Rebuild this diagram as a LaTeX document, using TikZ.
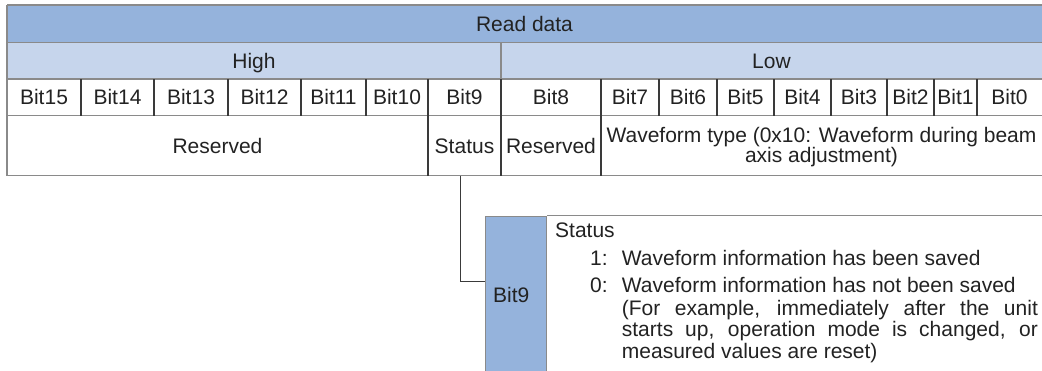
\documentclass[tikz,border=0pt]{standalone}
\usepackage{fontspec}
\setmainfont{Liberation Sans}
\definecolor{hdr}{HTML}{95B3DC}
\definecolor{sub}{HTML}{C6D5EC}
\definecolor{gline}{HTML}{8A8A8A}
\definecolor{dline}{HTML}{3A3A3A}
\definecolor{txt}{HTML}{222222}
\begin{document}
\begin{tikzpicture}[x=1pt,y=-1pt,
  every node/.style={font=\fontsize{21}{20.5}\selectfont, text=txt, inner sep=0pt},
  cell/.style={text height=15pt, text depth=0pt, anchor=center},
  hline/.style={gline, line width=1.2pt},
  vline/.style={dline, line width=1.3pt},
  conn/.style={dline, line width=1pt}]
\useasboundingbox (0,0) rectangle (1042,370);
\clip (0,0) rectangle (1042,370);
% fills
\fill[hdr] (7,5) rectangle (1042,42.7);
\fill[sub] (7,42.7) rectangle (1042,79);
% horizontal lines
\foreach \yy in {5,42.7,79,115.7,175.7} \draw[hline] (7,\yy) -- (1042,\yy);
\draw[hline] (7,5) -- (7,175.7);
\draw[hline] (501,42.7) -- (501,79);
% bit dividers
\foreach \xx in {81,154,228,301,366,428,501,601,659,717,774,831,887,934,977}
  \draw[vline] (\xx,79) -- (\xx,115.7);
\foreach \xx in {428,501,601}
  \draw[vline] (\xx,115.7) -- (\xx,175.7);
% header texts
\node[cell] (rd) at (524.5,24) {Read data};
\node[cell] (hi) at (254,61) {High};
\node[cell] (lo) at (771.5,61) {Low};
% bits
\node[cell] (b15) at (44,97.4) {Bit15};
\node[cell] (b14) at (117.5,97.4) {Bit14};
\node[cell] (b13) at (191,97.4) {Bit13};
\node[cell] (b12) at (264.5,97.4) {Bit12};
\node[cell] (b11) at (333.5,97.4) {Bit11};
\node[cell] (b10) at (397,97.4) {Bit10};
\node[cell] (b9c) at (464.5,97.4) {Bit9};
\node[cell] (b8) at (551,97.4) {Bit8};
\node[cell] (b7) at (630,97.4) {Bit7};
\node[cell] (b6) at (688,97.4) {Bit6};
\node[cell] (b5) at (745.5,97.4) {Bit5};
\node[cell] (b4) at (802.5,97.4) {Bit4};
\node[cell] (b3) at (859,97.4) {Bit3};
\node[cell] (b2) at (910.5,97.4) {Bit2};
\node[cell] (b1) at (955.5,97.4) {Bit1};
\node[cell] (b0) at (1009.5,97.4) {Bit0};
% row 4
\node[cell] (res1) at (217.5,145.7) {Reserved};
\node[cell, minimum height=60pt] (st4) at (464.5,145.7) {Status};
\node[cell] (res2) at (551,145.7) {Reserved};
\node[align=center, anchor=center] (wt) at (821.5,147) {Waveform type (0x10: Waveform during beam\\axis adjustment)};
% bit9 detail box
\node[draw=gline, fill=hdr, line width=1.2pt, minimum width=61pt, minimum height=220pt, anchor=north west] (b9) at (485,215.7) {};
\draw[hline] (b9.north east) -- (1045,215.7);
\node[anchor=base west] (b9t) at (493,302.7) {Bit9};
% connector
\draw[conn] ([xshift=-3.8pt]st4.south) |- (b9.west |- 0,281.7);
% status description
\node[anchor=base west] (s0) at (555,237.3) {Status};
\node[anchor=base west] (s1n) at (590,265) {1:};
\node[anchor=base west] (s1) at (621.7,265) {Waveform information has been saved};
\node[anchor=base west] (s2n) at (590,292.7) {0:};
\node[anchor=base west] (s2) at (621.7,292.7) {Waveform information has not been saved};
\node[anchor=base west] (s3) at (621.7,315) {\makebox[416pt][s]{(For example, immediately after the unit}};
\node[anchor=base west] (s4) at (621.7,336.7) {\makebox[416pt][s]{starts up, operation mode is changed, or}};
\node[anchor=base west] (s5) at (621.7,358) {measured values are reset)};
\end{tikzpicture}
\end{document}
